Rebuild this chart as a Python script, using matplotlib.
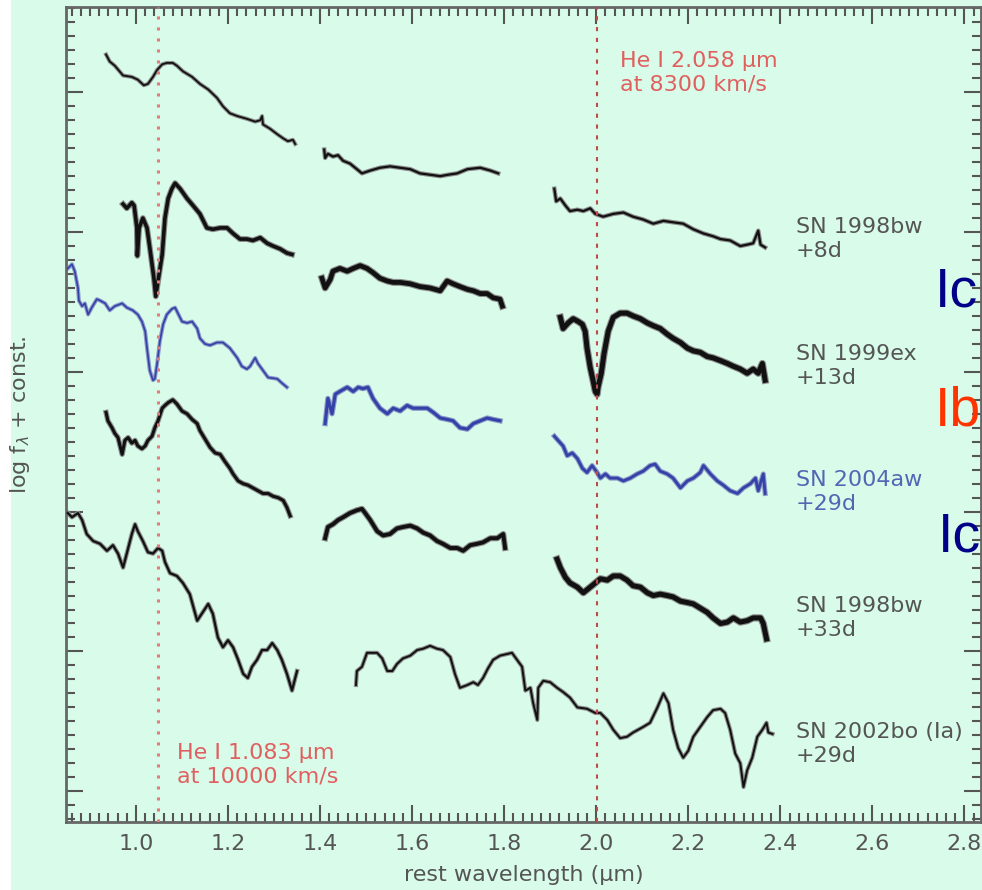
import matplotlib
matplotlib.use("Agg")
import matplotlib.pyplot as plt
from matplotlib.ticker import MultipleLocator

# ---- SN 1998bw +8d (top) ----
bw8_lam1 = [0.935, 0.943, 0.954, 0.972, 0.991, 1.004, 1.017, 1.026, 1.037, 1.046, 1.057, 1.067, 1.080, 1.089,
            1.102, 1.122, 1.139, 1.157, 1.176, 1.189, 1.204, 1.220, 1.241, 1.259, 1.270, 1.274, 1.276, 1.291,
            1.307, 1.320, 1.330, 1.341, 1.346]
bw8_flux1 = [5.27, 5.22, 5.19, 5.12, 5.11, 5.09, 5.05, 5.06, 5.11, 5.16, 5.20, 5.21, 5.21, 5.19,
             5.15, 5.11, 5.06, 5.02, 4.96, 4.90, 4.85, 4.83, 4.81, 4.79, 4.80, 4.83, 4.77, 4.74,
             4.70, 4.67, 4.65, 4.66, 4.63]
bw8_lam2 = [1.409, 1.411, 1.417, 1.428, 1.439, 1.450, 1.465, 1.480, 1.491, 1.509, 1.530, 1.552, 1.574, 1.596,
            1.617, 1.639, 1.661, 1.678, 1.698, 1.720, 1.748, 1.770, 1.787]
bw8_flux2 = [4.59, 4.53, 4.56, 4.54, 4.55, 4.51, 4.49, 4.45, 4.42, 4.44, 4.46, 4.47, 4.46, 4.45,
             4.42, 4.41, 4.40, 4.41, 4.42, 4.45, 4.46, 4.44, 4.42]
bw8_lam3 = [1.909, 1.913, 1.922, 1.933, 1.943, 1.959, 1.972, 1.987, 1.998, 2.015, 2.037, 2.059, 2.080, 2.102,
            2.124, 2.146, 2.167, 2.189, 2.211, 2.233, 2.254, 2.270, 2.291, 2.313, 2.328, 2.341, 2.352, 2.357,
            2.367]
bw8_flux3 = [4.31, 4.22, 4.24, 4.19, 4.15, 4.16, 4.15, 4.17, 4.13, 4.11, 4.13, 4.14, 4.11, 4.09,
             4.06, 4.08, 4.07, 4.06, 4.02, 3.99, 3.97, 3.95, 3.94, 3.90, 3.91, 3.92, 4.01, 3.91,
             3.89]

# ---- SN 1999ex +13d ----
ex_lam1 = [0.972, 0.980, 0.991, 0.996, 1.002, 1.003, 1.007, 1.015, 1.024, 1.030, 1.039, 1.043, 1.048, 1.057,
           1.063, 1.070, 1.078, 1.085, 1.096, 1.111, 1.124, 1.139, 1.154, 1.167, 1.183, 1.198, 1.211, 1.226,
           1.241, 1.254, 1.270, 1.285, 1.298, 1.313, 1.328, 1.339]
ex_flux1 = [4.20, 4.17, 4.21, 4.19, 4.03, 3.83, 4.03, 4.10, 4.03, 3.89, 3.67, 3.54, 3.65, 3.84,
            4.10, 4.24, 4.31, 4.35, 4.31, 4.24, 4.19, 4.13, 4.03, 4.02, 4.03, 4.03, 3.99, 3.95,
            3.95, 3.94, 3.96, 3.92, 3.90, 3.88, 3.85, 3.84]
ex_lam2 = [1.404, 1.411, 1.422, 1.428, 1.443, 1.459, 1.472, 1.487, 1.502, 1.515, 1.530, 1.546, 1.559, 1.574,
           1.596, 1.617, 1.639, 1.661, 1.676, 1.689, 1.704, 1.720, 1.733, 1.748, 1.763, 1.776, 1.791, 1.796]
ex_flux2 = [3.67, 3.60, 3.66, 3.72, 3.74, 3.72, 3.74, 3.76, 3.74, 3.71, 3.67, 3.65, 3.64, 3.64,
            3.63, 3.61, 3.60, 3.58, 3.65, 3.63, 3.61, 3.59, 3.58, 3.56, 3.56, 3.53, 3.52, 3.47]
ex_lam3 = [1.922, 1.928, 1.939, 1.950, 1.961, 1.970, 1.976, 1.980, 1.987, 1.993, 1.998, 2.002, 2.004, 2.011,
           2.017, 2.026, 2.037, 2.052, 2.067, 2.080, 2.096, 2.111, 2.124, 2.139, 2.154, 2.167, 2.183, 2.198,
           2.211, 2.226, 2.241, 2.254, 2.270, 2.285, 2.298, 2.313, 2.328, 2.341, 2.352, 2.361, 2.367]
ex_flux3 = [3.39, 3.31, 3.35, 3.38, 3.36, 3.34, 3.29, 3.17, 3.03, 2.94, 2.86, 2.84, 2.89, 2.99,
            3.13, 3.29, 3.39, 3.42, 3.42, 3.40, 3.38, 3.35, 3.33, 3.31, 3.27, 3.24, 3.21, 3.17,
            3.15, 3.14, 3.11, 3.10, 3.08, 3.06, 3.04, 3.02, 2.99, 3.02, 2.99, 3.06, 2.94]

# ---- SN 2004aw +29d (blue) ----
aw_lam1 = [0.852, 0.861, 0.867, 0.874, 0.876, 0.883, 0.889, 0.896, 0.904, 0.915, 0.922, 0.933, 0.943, 0.954,
           0.970, 0.980, 0.993, 1.004, 1.013, 1.020, 1.024, 1.030, 1.037, 1.041, 1.046, 1.052, 1.059, 1.067,
           1.078, 1.085, 1.091, 1.100, 1.111, 1.122, 1.133, 1.139, 1.150, 1.161, 1.176, 1.189, 1.204, 1.220,
           1.230, 1.241, 1.248, 1.259, 1.265, 1.276, 1.287, 1.307, 1.317, 1.328]
aw_flux1 = [3.74, 3.77, 3.72, 3.60, 3.51, 3.47, 3.49, 3.41, 3.46, 3.52, 3.51, 3.49, 3.44, 3.47,
            3.49, 3.46, 3.44, 3.41, 3.36, 3.29, 3.17, 3.01, 2.94, 2.95, 3.06, 3.22, 3.34, 3.41,
            3.45, 3.46, 3.42, 3.36, 3.35, 3.36, 3.31, 3.24, 3.20, 3.19, 3.21, 3.21, 3.17, 3.10,
            3.04, 3.02, 3.04, 3.10, 3.06, 3.01, 2.96, 2.95, 2.92, 2.89]
aw_lam2 = [1.411, 1.417, 1.426, 1.433, 1.443, 1.459, 1.472, 1.483, 1.493, 1.504, 1.515, 1.530, 1.546, 1.559,
           1.574, 1.589, 1.602, 1.617, 1.633, 1.646, 1.661, 1.676, 1.689, 1.704, 1.720, 1.733, 1.748, 1.763,
           1.776, 1.791]
aw_flux2 = [2.63, 2.81, 2.70, 2.84, 2.86, 2.89, 2.86, 2.89, 2.88, 2.89, 2.81, 2.74, 2.70, 2.74,
            2.72, 2.76, 2.74, 2.74, 2.74, 2.71, 2.67, 2.66, 2.65, 2.60, 2.59, 2.63, 2.65, 2.67,
            2.66, 2.65]
aw_lam3 = [1.909, 1.917, 1.928, 1.937, 1.948, 1.959, 1.970, 1.980, 1.991, 2.002, 2.009, 2.020, 2.030, 2.046,
           2.059, 2.074, 2.089, 2.102, 2.117, 2.128, 2.139, 2.154, 2.167, 2.183, 2.198, 2.211, 2.226, 2.233,
           2.248, 2.263, 2.276, 2.291, 2.307, 2.320, 2.335, 2.346, 2.352, 2.363, 2.367]
aw_flux3 = [2.54, 2.51, 2.47, 2.40, 2.42, 2.38, 2.31, 2.28, 2.33, 2.28, 2.24, 2.27, 2.24, 2.24,
            2.22, 2.24, 2.27, 2.29, 2.33, 2.34, 2.29, 2.27, 2.24, 2.17, 2.22, 2.24, 2.28, 2.33,
            2.27, 2.22, 2.19, 2.15, 2.13, 2.17, 2.20, 2.24, 2.15, 2.27, 2.13]

# ---- SN 1998bw +33d ----
bw33_lam1 = [0.935, 0.939, 0.948, 0.954, 0.961, 0.970, 0.976, 0.983, 0.991, 0.998, 1.004, 1.013, 1.020, 1.026,
             1.035, 1.041, 1.048, 1.057, 1.063, 1.070, 1.080, 1.089, 1.100, 1.111, 1.122, 1.133, 1.139, 1.150,
             1.161, 1.172, 1.183, 1.193, 1.204, 1.211, 1.222, 1.233, 1.243, 1.254, 1.265, 1.276, 1.287, 1.298,
             1.309, 1.320, 1.328, 1.335]
bw33_flux1 = [2.71, 2.65, 2.60, 2.56, 2.53, 2.41, 2.51, 2.53, 2.49, 2.51, 2.47, 2.45, 2.47, 2.51,
              2.54, 2.60, 2.65, 2.74, 2.76, 2.78, 2.80, 2.77, 2.72, 2.70, 2.66, 2.63, 2.58, 2.52,
              2.46, 2.42, 2.41, 2.36, 2.31, 2.27, 2.22, 2.20, 2.19, 2.17, 2.15, 2.13, 2.13, 2.11,
              2.10, 2.08, 2.03, 1.97]
bw33_lam2 = [1.411, 1.417, 1.428, 1.439, 1.450, 1.465, 1.480, 1.491, 1.498, 1.509, 1.524, 1.537, 1.552, 1.567,
             1.580, 1.596, 1.611, 1.624, 1.639, 1.654, 1.667, 1.683, 1.698, 1.711, 1.726, 1.741, 1.754, 1.770,
             1.785, 1.798, 1.802]
bw33_flux2 = [1.81, 1.89, 1.91, 1.94, 1.96, 1.99, 2.01, 2.02, 1.99, 1.94, 1.86, 1.83, 1.84, 1.88,
              1.89, 1.90, 1.88, 1.85, 1.83, 1.79, 1.77, 1.74, 1.74, 1.72, 1.76, 1.77, 1.78, 1.81,
              1.81, 1.84, 1.74]
bw33_lam3 = [1.915, 1.922, 1.933, 1.943, 1.959, 1.972, 1.987, 1.998, 2.009, 2.024, 2.037, 2.052, 2.067, 2.080,
             2.096, 2.111, 2.124, 2.139, 2.154, 2.167, 2.183, 2.198, 2.211, 2.226, 2.241, 2.254, 2.270, 2.285,
             2.298, 2.313, 2.328, 2.341, 2.357, 2.363, 2.370]
bw33_flux3 = [1.66, 1.60, 1.53, 1.49, 1.46, 1.42, 1.46, 1.49, 1.52, 1.51, 1.54, 1.54, 1.51, 1.47,
              1.46, 1.42, 1.40, 1.41, 1.40, 1.39, 1.36, 1.35, 1.34, 1.31, 1.28, 1.24, 1.20, 1.21,
              1.24, 1.21, 1.22, 1.24, 1.24, 1.20, 1.09]

# ---- SN 2002bo (Ia) +29d ----
bo_lam1 = [0.852, 0.861, 0.874, 0.883, 0.893, 0.907, 0.922, 0.937, 0.950, 0.961, 0.972, 0.980, 0.991, 0.998,
           1.004, 1.015, 1.026, 1.037, 1.048, 1.057, 1.063, 1.074, 1.089, 1.102, 1.117, 1.133, 1.143, 1.157,
           1.167, 1.178, 1.189, 1.200, 1.211, 1.222, 1.233, 1.243, 1.252, 1.263, 1.274, 1.285, 1.296, 1.307,
           1.317, 1.328, 1.339, 1.346, 1.350]
bo_flux1 = [1.99, 1.96, 1.99, 1.94, 1.84, 1.79, 1.77, 1.72, 1.76, 1.70, 1.60, 1.70, 1.84, 1.91,
            1.86, 1.79, 1.71, 1.70, 1.74, 1.72, 1.64, 1.56, 1.54, 1.49, 1.41, 1.22, 1.27, 1.34,
            1.27, 1.10, 1.03, 1.08, 1.03, 0.94, 0.84, 0.81, 0.89, 0.94, 1.01, 1.01, 1.06, 1.01,
            0.94, 0.84, 0.72, 0.81, 0.86]
bo_lam2 = [1.478, 1.480, 1.491, 1.502, 1.513, 1.524, 1.535, 1.546, 1.557, 1.567, 1.580, 1.596, 1.611, 1.624,
           1.639, 1.654, 1.667, 1.683, 1.693, 1.704, 1.720, 1.733, 1.743, 1.754, 1.765, 1.776, 1.791, 1.817,
           1.828, 1.839, 1.846, 1.857, 1.863, 1.872, 1.874, 1.885, 1.900, 1.915, 1.928, 1.943, 1.959, 1.980,
           1.998, 2.009, 2.024, 2.037, 2.052, 2.067, 2.080, 2.102, 2.117, 2.133, 2.146, 2.157, 2.167, 2.178,
           2.189, 2.200, 2.211, 2.226, 2.241, 2.254, 2.270, 2.280, 2.291, 2.302, 2.313, 2.320, 2.328, 2.339,
           2.350, 2.361, 2.370, 2.374, 2.383]
bo_flux2 = [0.76, 0.86, 0.89, 0.99, 0.99, 0.99, 0.95, 0.86, 0.86, 0.91, 0.95, 0.97, 1.01, 1.02,
            1.04, 1.02, 1.01, 0.96, 0.84, 0.74, 0.76, 0.78, 0.76, 0.81, 0.88, 0.94, 0.97, 0.99,
            0.94, 0.89, 0.72, 0.74, 0.63, 0.51, 0.74, 0.79, 0.78, 0.74, 0.71, 0.67, 0.60, 0.59,
            0.56, 0.56, 0.51, 0.44, 0.38, 0.39, 0.42, 0.46, 0.49, 0.60, 0.70, 0.63, 0.44, 0.31,
            0.24, 0.29, 0.39, 0.46, 0.53, 0.58, 0.59, 0.56, 0.44, 0.27, 0.20, 0.03, 0.15, 0.24,
            0.39, 0.44, 0.49, 0.42, 0.41]

labels = ["SN 1998bw\n+8d", "SN 1999ex\n+13d", "SN 2004aw\n+29d", "SN 1998bw\n+33d", "SN 2002bo (Ia)\n+29d"]
label_y = [3.95, 3.04, 2.14, 1.24, 0.34]
he_lines = [1.0469, 2.0007]
xticks = [1.0, 1.2, 1.4, 1.6, 1.8, 2.0, 2.2, 2.4, 2.6, 2.8]

BG = "#d8fce9"
GRAY = "#555555"
BLACK = ("#111111", "#8c8c8c")
BLUE = ("#3242a6", "#8e97c9")

fig = plt.figure(figsize=(9.82, 8.90), dpi=100, facecolor=BG)
fig.patches.append(plt.Rectangle((0, 0), 11 / 982, 1, transform=fig.transFigure,
                                 facecolor="white", edgecolor="none", zorder=0))
ax = fig.add_axes([66 / 982, 1 - 822 / 890, 915 / 982, 815 / 890])
ax.set_facecolor(BG)


def draw(lam, flux, colors, lw):
    core, halo = colors
    ax.plot(lam, flux, color=halo, lw=lw + 1.6, solid_joinstyle="round", zorder=2)
    ax.plot(lam, flux, color=core, lw=lw, solid_joinstyle="round", zorder=3)


draw(bw8_lam1, bw8_flux1, BLACK, 1.3)
draw(bw8_lam2, bw8_flux2, BLACK, 1.6)
draw(bw8_lam3, bw8_flux3, BLACK, 1.6)
draw(ex_lam1, ex_flux1, BLACK, 2.6)
draw(ex_lam2, ex_flux2, BLACK, 3.4)
draw(ex_lam3, ex_flux3, BLACK, 3.6)
draw(aw_lam1, aw_flux1, BLUE, 1.2)
draw(aw_lam2, aw_flux2, BLUE, 2.2)
draw(aw_lam3, aw_flux3, BLUE, 2.0)
draw(bw33_lam1, bw33_flux1, BLACK, 2.2)
draw(bw33_lam2, bw33_flux2, BLACK, 2.8)
draw(bw33_lam3, bw33_flux3, BLACK, 3.6)
draw(bo_lam1, bo_flux1, BLACK, 1.6)
draw(bo_lam2, bo_flux2, BLACK, 1.4)

ax.axvline(he_lines[0], color="#e57a7a", ls=(0, (1, 2.6)), lw=2.2, zorder=4)
ax.axvline(he_lines[1], color="#c04a4a", ls=(0, (2, 3.2)), lw=1.5, zorder=4)

ax.set_xlim(0.848, 2.836)
ax.set_ylim(-0.22, 5.61)
ax.set_xticks(xticks)
ax.set_xticklabels([f"{t:.1f}" for t in xticks])
ax.xaxis.set_minor_locator(MultipleLocator(0.02))
ax.yaxis.set_major_locator(MultipleLocator(1.0))
ax.yaxis.set_minor_locator(MultipleLocator(0.1))
ax.tick_params(which="both", direction="in", top=True, right=True, labelleft=False,
               color=GRAY, width=1.5, labelcolor=GRAY, labelsize=16)
ax.tick_params(which="major", length=12, pad=9)
ax.tick_params(which="minor", length=6.5)
for s in ax.spines.values():
    s.set_color("#666666")
    s.set_linewidth(2)

txt_colors = [GRAY, GRAY, "#5565b5", GRAY, GRAY]
for lab, y, c in zip(labels, label_y, txt_colors):
    ax.text(2.433, y, lab, color=c, fontsize=16, va="center", ha="left", linespacing=1.25)

ax.text(2.052, 5.14, "He I 2.058 µm\nat 8300 km/s", color="#e06060", fontsize=16,
        va="center", ha="left", linespacing=1.25)
ax.text(1.089, 0.19, "He I 1.083 µm\nat 10000 km/s", color="#e06060", fontsize=16,
        va="center", ha="left", linespacing=1.25)

fig.text(524 / 982, 1 - 875 / 890, "rest wavelength (µm)", color=GRAY, fontsize=16,
         ha="center", va="center")
fig.text(20 / 982, 1 - 415 / 890, r"log f$_{\lambda}$ + const.", color=GRAY, fontsize=16,
         rotation=90, ha="center", va="center")

for s, x, yb, c in [("Ic", 935, 307, "#000088"), ("Ib", 935, 426, "#ff3300"), ("Ic", 938, 552, "#000088")]:
    fig.text(x / 982, 1 - yb / 890, s, color=c, fontsize=40, family="Liberation Sans",
             ha="left", va="baseline", zorder=10)

fig.savefig("out.png", dpi=100, facecolor=BG)
